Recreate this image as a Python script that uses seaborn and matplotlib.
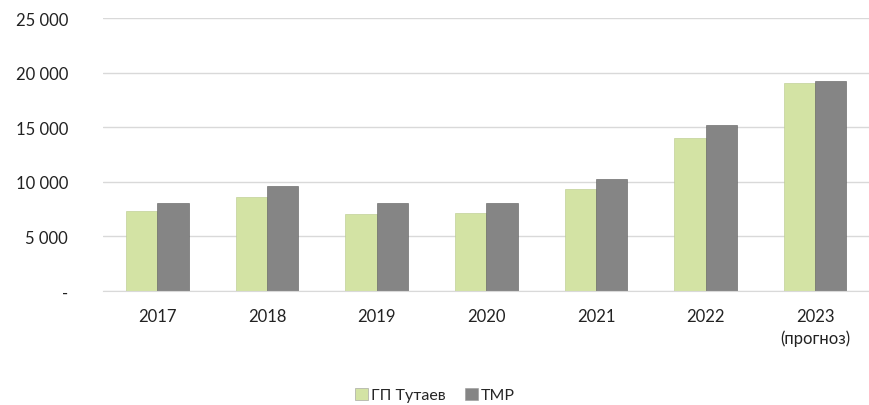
import pandas as pd
import matplotlib.pyplot as plt
import seaborn as sns
import matplotlib.ticker as ticker

years = ['2017', '2018', '2019', '2020', '2021', '2022', '2023\n(прогноз)']
gp_tutaev = [7300, 8650, 7050, 7150, 9350, 14000, 19050]
tmr = [8030, 9620, 8050, 8050, 10250, 15200, 19250]
series = ['ГП Тутаев', 'ТМР']

df = pd.DataFrame({
    'Year': years * 2,
    'Value': gp_tutaev + tmr,
    'Series': [series[0]] * len(years) + [series[1]] * len(years),
})

sns.set_style('white')
plt.rcParams['font.family'] = ['Lato', 'DejaVu Sans']

fig = plt.figure(figsize=(8.7, 4.06), dpi=100)
ax = fig.add_axes([0.118, 0.281, 0.882, 0.672])

pallet = {series[0]: '#d3e3a4', series[1]: '#858585'}
sns.barplot(data=df, x='Year', y='Value', hue='Series', palette=pallet,
            width=0.57, ax=ax, legend=False, saturation=1,
            edgecolor='#6a6a6a', linewidth=0.4)
for bar, c in zip(ax.patches, ['#b8c98a'] * 7 + ['#5e5e5e'] * 7):
    bar.set_edgecolor(c)

ax.set_ylim(0, 25000)
ax.set_xlim(-0.5, 6.5)
ax.yaxis.set_major_locator(ticker.MultipleLocator(5000))
ax.yaxis.set_major_formatter(ticker.FuncFormatter(
    lambda v, p: '-' if v == 0 else f'{int(v):,}'.replace(',', ' ')))
ax.grid(axis='y', color='#d9d9d9', linewidth=1)
ax.set_axisbelow(True)
for s in ['top', 'right', 'left']:
    ax.spines[s].set_visible(False)
ax.spines['bottom'].set_color('#d9d9d9')
ax.tick_params(axis='both', length=0, labelsize=12, colors='#222222')
ax.tick_params(axis='y', pad=25)
ax.tick_params(axis='x', pad=12)
for lab in ax.get_xticklabels():
    lab.set_linespacing(1.45)
    lab.set_verticalalignment('top')
ax.set_xlabel('')
ax.set_ylabel('')

handles = [plt.Rectangle((0, 0), 1, 1, facecolor=pallet[s], edgecolor='#999999', linewidth=0.4)
           for s in series]
fig.legend(handles, series, loc='center', bbox_to_anchor=(0.5, 0.025), ncol=2,
           frameon=False, fontsize=11.5, handlelength=0.8, handleheight=0.8,
           handletextpad=0.2, columnspacing=1.2)

fig.savefig('out.png', dpi=100)
